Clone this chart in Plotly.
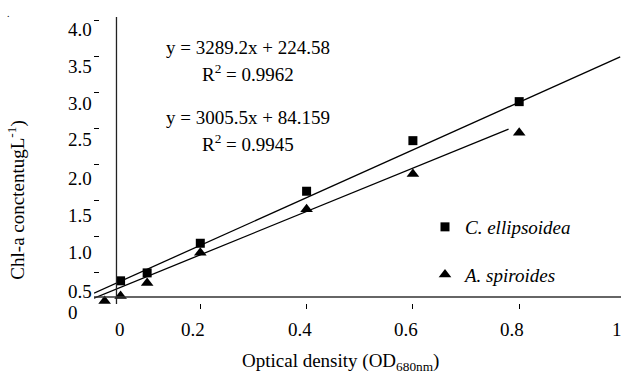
import plotly.graph_objects as go

# ---- data ----
ce_x = [0.05, 0.1, 0.2, 0.4, 0.6, 0.8]
ce_y = [0.39, 0.50, 0.91, 1.63, 2.33, 2.87]
as_x = [0.02, 0.05, 0.1, 0.2, 0.4, 0.6, 0.8]
as_y = [0.11, 0.18, 0.36, 0.78, 1.38, 1.87, 2.44]

ce_fit_x = [0.0, 0.99]
ce_fit_y = [0.22, 3.49]
as_fit_x = [0.0, 0.78]
as_fit_y = [0.15, 2.49]

x_ticks = [0, 0.2, 0.4, 0.6, 0.8, 1]
x_tick_text = ["0", "0.2", "0.4", "0.6", "0.8", "1"]
y_ticks = [0, 0.5, 1.0, 1.5, 2.0, 2.5, 3.0, 3.5, 4.0]
y_tick_text = ["0", "0.5", "1.0", "1.5", "2.0", "2.5", "3.0", "3.5", "4.0"]

eq_texts = ["y = 3289.2x + 224.58", "R<sup>2</sup> = 0.9962",
            "y = 3005.5x + 84.159", "R<sup>2</sup> = 0.9945"]

# ---- style / layout ----
FONT = "Liberation Serif"
FS = 19
X_RANGE = [0, 527 / 531.5]
Y_RANGE = [0, 309 / 72.25]
x_label_shift = [26, -7, -7, -7, -7, -9]
y_label_shift = [-3, -19, -16, -15, -14, -11, -11, -10, -9]
y_label_xshift = [-14, 0, 0, 0, 0, 0, 0, 0, 0]
eq_pos = [(0.29, 3.626), (0.29, 3.266), (0.29, 2.657), (0.29, 2.298)]


def xpaper(v):
    return (v - X_RANGE[0]) / (X_RANGE[1] - X_RANGE[0])


fig = go.Figure()
fig.add_trace(go.Scatter(x=ce_fit_x, y=ce_fit_y, mode="lines",
                         line=dict(color="black", width=1.3), showlegend=False, hoverinfo="skip"))
fig.add_trace(go.Scatter(x=as_fit_x, y=as_fit_y, mode="lines",
                         line=dict(color="black", width=1.3), showlegend=False, hoverinfo="skip"))
fig.add_trace(go.Scatter(x=ce_x, y=ce_y, mode="markers", name="<i>C. ellipsoidea</i>",
                         legendgroup="a", cliponaxis=False,
                         marker=dict(symbol="square", size=9, color="black")))
fig.add_trace(go.Scatter(x=as_x, y=as_y, mode="markers", name="<i>A. spiroides</i>",
                         legendgroup="b", cliponaxis=False,
                         marker=dict(symbol="triangle-up", size=11, color="black")))

ann = []
for v, t, s in zip(x_ticks, x_tick_text, x_label_shift):
    ann.append(dict(x=xpaper(v), y=0, xref="paper", yref="paper", text=t, showarrow=False,
                    xanchor="center", yanchor="middle", yshift=-20, xshift=s,
                    font=dict(family=FONT, size=FS, color="black")))
for v, t, s, xs in zip(y_ticks, y_tick_text, y_label_shift, y_label_xshift):
    ann.append(dict(x=0, y=v, xref="paper", yref="y", text=t, showarrow=False,
                    xanchor="right", yanchor="middle", yshift=s, xshift=xs,
                    font=dict(family=FONT, size=FS, color="black")))
for (px, py), t in zip(eq_pos, eq_texts):
    ann.append(dict(x=px, y=py, xref="x", yref="y", text=t, showarrow=False,
                    xanchor="center", yanchor="middle",
                    font=dict(family=FONT, size=FS, color="black")))
ann.append(dict(x=(340 - 94) / 527, y=-(362 - 309) / 309, xref="paper", yref="paper",
                text="Optical density (OD<sub>680nm</sub>)", showarrow=False,
                xanchor="center", yanchor="middle",
                font=dict(family=FONT, size=FS, color="black")))
ann.append(dict(x=(17 - 94) / 527, y=1.50, xref="paper", yref="y", textangle=-90,
                text="Chl-a conctentugL<sup>-1</sup>)", showarrow=False,
                xanchor="center", yanchor="middle",
                font=dict(family=FONT, size=FS, color="black")))
ann.append(dict(x=(8 - 94) / 527, y=1 - 13 / 309, xref="paper", yref="paper", text=".",
                showarrow=False, xanchor="center", yanchor="middle",
                font=dict(family=FONT, size=10, color="black")))

shapes = [
    dict(type="line", xref="x", yref="y", x0=0.0423, x1=0.0423, y0=0.07, y1=4.04,
         line=dict(color="#222", width=1.3)),
    dict(type="line", xref="paper", yref="y", x0=0, x1=1, y0=0.166, y1=0.166,
         line=dict(color="#333", width=1.5)),
]

fig.update_layout(
    width=621, height=374,
    margin=dict(l=94, r=0, t=0, b=65, autoexpand=False),
    paper_bgcolor="white", plot_bgcolor="white",
    xaxis=dict(range=X_RANGE, showgrid=False, zeroline=False, showline=False,
               tickvals=x_ticks[:-1], ticks="inside", ticklen=5, tickwidth=1,
               tickcolor="black", showticklabels=False),
    yaxis=dict(range=Y_RANGE, showgrid=False, zeroline=False, showline=False,
               tickvals=y_ticks, ticks="inside", ticklen=5, tickwidth=1,
               tickcolor="black", showticklabels=False),
    showlegend=True,
    legend=dict(xref="paper", yref="paper", x=(425 - 94) / 527, y=1 - 208 / 309,
                xanchor="left", yanchor="top", tracegroupgap=20,
                bgcolor="rgba(0,0,0,0)",
                font=dict(family=FONT, size=FS, color="black")),
    annotations=ann, shapes=shapes,
)

fig.write_html("out.html")
